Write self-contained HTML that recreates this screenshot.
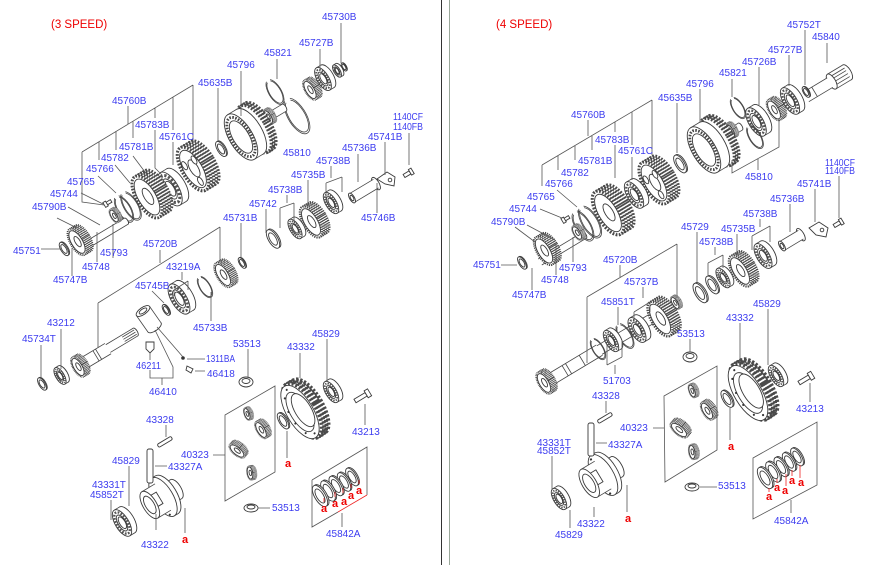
<!DOCTYPE html>
<html><head><meta charset="utf-8">
<style>
html,body{margin:0;padding:0;background:#fff}
svg{display:block}
.o{fill:#fff;stroke:#3a3a3a;stroke-width:.9;vector-effect:non-scaling-stroke}
.t{fill:#fff;stroke:#4a4a4a;stroke-width:1.3;stroke-dasharray:.75 .6}
.l{fill:none;stroke:#444;stroke-width:.8;vector-effect:non-scaling-stroke}
.w{fill:#fff}
.k{fill:none;stroke:#555;stroke-width:.8}
.rk{fill:none;stroke:#e22;stroke-width:.8}
text{font-family:"Liberation Sans",sans-serif;font-size:10px;fill:#3c3cf0}
text.r{fill:#e00;font-weight:bold;font-size:11px}
text.h{fill:#e00;font-size:11.5px}
</style></head><body>
<svg width="883" height="565" viewBox="0 0 883 565" xmlns="http://www.w3.org/2000/svg" xmlns:xlink="http://www.w3.org/1999/xlink">
<defs>
<g id="gear">
<ellipse class="t" cx="5" rx="4.5" ry="10.3"/>
<ellipse class="t" cx="3.75" rx="4.5" ry="10.3"/>
<ellipse class="t" cx="2.5" rx="4.5" ry="10.3"/>
<ellipse class="t" cx="1.25" rx="4.5" ry="10.3"/>
<ellipse class="t" cx="0" rx="4.5" ry="10.3"/>
<ellipse class="o" rx="3.8" ry="8.8"/>
<ellipse class="o" cx=".5" rx="1.7" ry="4"/>
</g>
<g id="bear">
<ellipse class="o" cx="4" rx="4.5" ry="10"/>
<rect class="w" x="0" y="-10" width="4" height="20"/>
<path class="l" d="M0-10H4M0 10H4"/>
<ellipse class="o" rx="4.5" ry="10"/>
<ellipse rx="3.6" ry="8" fill="#fff" stroke="#555" stroke-width="1.6" stroke-dasharray="1.2 .9"/>
<ellipse class="o" rx="2.6" ry="6"/>
<ellipse class="o" cx=".3" rx="1.9" ry="4.4"/>
</g>
<g id="ring">
<ellipse class="o" cx="1.3" rx="4.4" ry="10"/>
<ellipse class="o" rx="4.4" ry="10"/>
<ellipse class="o" rx="2.9" ry="6.6"/>
</g>
<g id="snap">
<path class="l" d="M-1.5-9.43A4.5 10 0 1 0 1.5-9.43"/>
<path class="l" d="M-1.3-8.51A4 9 0 1 0 1.3-8.51"/>
</g>
<g id="drum">
<ellipse class="t" cx="8" rx="4.5" ry="10.3"/>
<ellipse class="t" cx="7" rx="4.5" ry="10.3"/>
<ellipse class="t" cx="6" rx="4.5" ry="10.3"/>
<ellipse class="o" cx="4" rx="4.5" ry="10"/>
<rect class="w" x="0" y="-10" width="4" height="20"/>
<path class="l" d="M0-10H4M0 10H4"/>
<ellipse class="o" rx="4.5" ry="10"/>
<ellipse rx="3.8" ry="8.5" fill="#fff" stroke="#444" stroke-width="1.1" stroke-dasharray=".6 .55"/>
<ellipse class="o" rx="3.1" ry="7"/>
</g>
<g id="carr">
<use xlink:href="#gear" href="#gear"/>
<ellipse class="o" cx="0" cy="6" rx=".9" ry="1.9"/>
<ellipse class="o" cx="-2.3" cy="-3" rx=".9" ry="1.9"/>
<ellipse class="o" cx="2.3" cy="-3" rx=".9" ry="1.9"/>
</g>
<g id="rg">
<ellipse class="t" cx="3.6" rx="4.3" ry="10.2"/>
<ellipse class="t" cx="2.7" rx="4.4" ry="10.3"/>
<ellipse class="t" cx="1.8" rx="4.4" ry="10.3"/>
<ellipse class="t" cx=".9" rx="4.4" ry="10.3"/>
<ellipse class="o" rx="4.4" ry="10"/>
<ellipse class="o" rx="3.2" ry="7.4"/>
<ellipse class="o" cx="1.2" rx="2.7" ry="6.2"/>
<circle cx="0" cy="-8.6" r=".35" fill="#333"/>
<circle cx="-2" cy="-6.5" r=".35" fill="#333"/>
<circle cx="-3.3" cy="-2" r=".35" fill="#333"/>
<circle cx="-3.3" cy="2.5" r=".35" fill="#333"/>
<circle cx="-2" cy="7" r=".35" fill="#333"/>
<circle cx="0.5" cy="8.6" r=".35" fill="#333"/>
</g>
<g id="case">
<ellipse class="o" cx="7" rx="2.2" ry="5"/>
<rect class="w" x="2" y="-5" width="5" height="10"/>
<path class="l" d="M2-5H7M2 5H7"/>
<ellipse class="o" cx="2" rx="4.5" ry="10"/>
<rect class="w" x="0" y="-10" width="2" height="20"/>
<path class="l" d="M0-10H2M0 10H2"/>
<ellipse class="o" rx="4.5" ry="10"/>
<circle cx="-1" cy="-8.5" r=".5" fill="#333"/>
<circle cx="-3.6" cy="-4" r=".5" fill="#333"/>
<circle cx="-3.8" cy="3" r=".5" fill="#333"/>
<circle cx="-1.5" cy="8.5" r=".5" fill="#333"/>
<rect class="w" x="-7" y="-7" width="7" height="14"/>
<path class="l" d="M-7-7H0M-7 7H0"/>
<path class="o" d="M-5.5-3.5h4v6h-4z"/>
<ellipse class="o" cx="-7" rx="3.1" ry="7"/>
<ellipse class="o" cx="-7" rx="2" ry="4.5"/>
</g>
</defs>

<!-- dividers -->
<line x1="441.5" y1="0" x2="441.5" y2="565" stroke="#333" stroke-width="1"/>
<line x1="449.5" y1="0" x2="449.5" y2="565" stroke="#9aa89a" stroke-width="1"/>

<!-- ================= LEFT PANEL DRAWINGS ================= -->
<use href="#ring" transform="translate(344 67) rotate(-31) scale(.45)"/>
<use href="#bear" transform="translate(337 71) rotate(-31) scale(.7)"/>
<use href="#bear" transform="translate(323 79) rotate(-31) scale(1.3)"/>
<use href="#gear" transform="translate(310 90) rotate(-31) scale(1.1)"/>
<use href="#snap" transform="translate(275 92) rotate(-31) scale(1.4)"/>
<use href="#snap" transform="translate(297 116) rotate(-31) scale(2)"/>
<g transform="translate(262 121) rotate(-31)"><ellipse class="o" cx="26" rx="1.8" ry="4"/><rect class="w" x="0" y="-4" width="26" height="8"/><path class="l" d="M0-4H26M0 4H26"/></g>
<use href="#gear" transform="translate(268 117) rotate(-31) scale(.8)"/>
<use href="#drum" transform="translate(241 137) rotate(-31) scale(2.6)"/>
<use href="#ring" transform="translate(221 149) rotate(-31) scale(.85)"/>
<use href="#carr" transform="translate(193 169) rotate(-31) scale(2.4)"/>
<use href="#bear" transform="translate(170 189) rotate(-31) scale(1.9)"/>
<use href="#gear" transform="translate(147 197) rotate(-31) scale(2.3)"/>
<use href="#snap" transform="translate(131 206) rotate(-31) scale(1.6)"/>
<use href="#snap" transform="translate(124 209) rotate(-31) scale(1.5)"/>
<g transform="translate(80 249) rotate(-31)"><ellipse class="o" cx="54" rx="1.6" ry="3.5"/><rect class="w" x="0" y="-3.5" width="54" height="7"/><path class="l" d="M0-3.5H54M0 3.5H54"/></g>
<use href="#gear" transform="translate(114 216) rotate(-31) scale(.75)"/>
<use href="#gear" transform="translate(77 242) rotate(-31) scale(1.45)"/>
<use href="#ring" transform="translate(64 249) rotate(-31) scale(.75)"/>
<g transform="translate(106 204) rotate(-31)"><rect class="o" x="0" y="-1.5" width="6" height="3"/><rect class="o" x="-2" y="-2.8" width="3" height="5.6"/></g>

<!-- 45736B etc -->
<g transform="translate(352 198) rotate(-31)"><ellipse class="o" cx="28" rx="3" ry="7"/><rect class="w" x="0" y="-5" width="28" height="10"/><path class="l" d="M0-5H28M0 5H28"/><ellipse class="o" rx="2.4" ry="5.5"/><ellipse class="o" rx="1.4" ry="3"/></g>
<path class="o" d="M377 179L387 172L395 177L394 186L385 184Z"/>
<circle cx="390" cy="180" r="1.8" class="o"/>
<g transform="translate(404 176) rotate(-31)"><rect class="o" x="0" y="-1.8" width="7" height="3.6"/><rect class="o" x="7" y="-3.2" width="3" height="6.4"/></g>
<use href="#bear" transform="translate(331 203) rotate(-31) scale(1.2)"/>
<use href="#gear" transform="translate(311 222) rotate(-31) scale(1.7)"/>
<use href="#bear" transform="translate(295 229) rotate(-31) scale(1.1)"/>
<use href="#ring" transform="translate(273 239) rotate(-31) scale(1.05)"/>

<use href="#ring" transform="translate(242 263) rotate(-31) scale(.6)"/>
<use href="#gear" transform="translate(223 275) rotate(-31) scale(1.35)"/>
<use href="#snap" transform="translate(205 287) rotate(-31) scale(1.2)"/>
<use href="#bear" transform="translate(179 299) rotate(-31) scale(1.7)"/>
<use href="#ring" transform="translate(166 310) rotate(-31) scale(.6)"/>

<!-- pinion shaft left -->
<g transform="translate(84 363) rotate(-31)">
<ellipse class="o" cx="60" rx="2" ry="4.5"/>
<rect class="w" x="28" y="-4.5" width="32" height="9"/>
<path class="l" d="M28-4.5H60M28 4.5H60M46-2.5H60M46 0H60M46 2.5H60"/>
<rect class="w" x="0" y="-6" width="28" height="12"/>
<path class="l" d="M0-6H28M0 6H28M14-6V6M17-6V6"/>
</g>
<use href="#gear" transform="translate(78 367) rotate(-31) scale(1.1)"/>
<use href="#bear" transform="translate(60 376) rotate(-31) scale(.95)"/>
<use href="#ring" transform="translate(42 384) rotate(-31) scale(.7)"/>

<!-- speedo -->
<g transform="translate(143 311) rotate(55)"><ellipse class="o" cx="20" rx="3.5" ry="8"/><rect class="w" x="0" y="-8" width="20" height="16"/><path class="l" d="M0-8H20M0 8H20"/><ellipse class="o" rx="3.5" ry="8"/><ellipse class="o" rx="2" ry="4.5"/></g>
<path class="o" d="M146 342h8v7l-4 4-4-4z"/>
<circle cx="183" cy="358" r="1.8" fill="#333"/>
<path class="o" d="M187 366l6 3-2 4-5-3z"/>
<ellipse class="o" cx="246" cy="382" rx="7" ry="5"/><ellipse class="o" cx="246" cy="381" rx="4" ry="2.5"/>

<!-- diff left -->
<use href="#bear" transform="translate(331 392) rotate(-31) scale(1.2)"/>
<use href="#rg" transform="translate(300 412) rotate(-31) scale(3)"/>
<g transform="translate(355 401) rotate(-31)"><rect class="o" x="0" y="-2" width="13" height="4"/><rect class="o" x="13" y="-4" width="4" height="8"/></g>
<use href="#ring" transform="translate(283 421) rotate(-31) scale(.9)"/>
<use href="#gear" transform="translate(247 414) rotate(-20) scale(.65)"/>
<use href="#gear" transform="translate(261 430) rotate(-31) scale(.95)"/>
<use href="#gear" transform="translate(237 451) rotate(-50) scale(.95)"/>
<use href="#gear" transform="translate(250 473) rotate(-10) scale(.7)"/>
<use href="#case" transform="translate(163 497) rotate(-31) scale(2.2)"/>
<use href="#bear" transform="translate(122 523) rotate(-31) scale(1.5)"/>
<rect class="o" x="147" y="449" width="6" height="34" rx="2"/>
<g transform="translate(158 446) rotate(-31)"><rect class="o" x="0" y="-1.8" width="16" height="3.6" rx="1.5"/></g>
<ellipse class="o" cx="251" cy="508" rx="7" ry="4"/><ellipse class="o" cx="251" cy="507" rx="4" ry="2"/>
<use href="#ring" transform="translate(352 477) rotate(-31) scale(1)"/>
<use href="#ring" transform="translate(344 482) rotate(-31) scale(1.05)"/>
<use href="#ring" transform="translate(336 486) rotate(-31) scale(1.1)"/>
<use href="#ring" transform="translate(328 491) rotate(-31) scale(1.15)"/>
<use href="#ring" transform="translate(320 496) rotate(-31) scale(1.2)"/>

<!-- ================= RIGHT PANEL DRAWINGS ================= -->
<g transform="translate(806 97) rotate(-31)">
<ellipse class="o" cx="48" rx="3.8" ry="8.5"/>
<rect class="w" x="30" y="-8.5" width="18" height="17"/>
<path class="l" d="M30-8.5H48M30 8.5H48M30-5H48M30-2H48M30 1.5H48M30 5H48"/>
<ellipse class="o" cx="30" rx="3.8" ry="8.5"/>
<rect class="w" x="0" y="-5.5" width="28" height="11"/>
<path class="l" d="M0-5.5H28M0 5.5H28M10-5.5V5.5"/>
</g>
<use href="#ring" transform="translate(806 92) rotate(-31) scale(.6)"/>
<use href="#bear" transform="translate(790 101) rotate(-31) scale(1.5)"/>
<use href="#gear" transform="translate(774 110) rotate(-31) scale(1.15)"/>
<use href="#bear" transform="translate(756 122) rotate(-31) scale(1.6)"/>
<use href="#snap" transform="translate(738 108) rotate(-31) scale(1.2)"/>
<use href="#snap" transform="translate(755 137) rotate(-31) scale(1.3)"/>
<g transform="translate(718 140) rotate(-31)"><ellipse class="o" cx="26" rx="1.8" ry="4"/><rect class="w" x="0" y="-4" width="26" height="8"/><path class="l" d="M0-4H26M0 4H26"/></g>
<use href="#gear" transform="translate(730 131) rotate(-31) scale(.8)"/>
<use href="#drum" transform="translate(704 150) rotate(-31) scale(2.6)"/>
<use href="#ring" transform="translate(680 164) rotate(-31) scale(1)"/>
<use href="#carr" transform="translate(654 183) rotate(-31) scale(2.3)"/>
<use href="#bear" transform="translate(634 195) rotate(-31) scale(1.5)"/>
<use href="#gear" transform="translate(608 213) rotate(-31) scale(2.4)"/>
<use href="#snap" transform="translate(590 222) rotate(-31) scale(1.8)"/>
<use href="#snap" transform="translate(583 226) rotate(-31) scale(1.7)"/>
<g transform="translate(540 262) rotate(-31)"><ellipse class="o" cx="52" rx="1.6" ry="3.5"/><rect class="w" x="0" y="-3.5" width="52" height="7"/><path class="l" d="M0-3.5H52M0 3.5H52"/></g>
<use href="#gear" transform="translate(577 233) rotate(-31) scale(.8)"/>
<use href="#gear" transform="translate(544 251) rotate(-31) scale(1.55)"/>
<use href="#ring" transform="translate(522 263) rotate(-31) scale(.7)"/>
<g transform="translate(564 220) rotate(-31)"><rect class="o" x="0" y="-1.5" width="6" height="3"/><rect class="o" x="-2" y="-2.8" width="3" height="5.6"/></g>

<g transform="translate(782 246) rotate(-31)"><ellipse class="o" cx="22" rx="3" ry="7"/><rect class="w" x="0" y="-5" width="22" height="10"/><path class="l" d="M0-5H22M0 5H22"/><ellipse class="o" rx="2.4" ry="5.5"/><ellipse class="o" rx="1.4" ry="3"/></g>
<path class="o" d="M809 228L819 222L828 228L826 237L816 235Z"/>
<circle cx="822" cy="230" r="1.8" class="o"/>
<g transform="translate(834 226) rotate(-31)"><rect class="o" x="0" y="-1.8" width="7" height="3.6"/><rect class="o" x="7" y="-3.2" width="3" height="6.4"/></g>
<use href="#bear" transform="translate(763 256) rotate(-31) scale(1.4)"/>
<use href="#gear" transform="translate(740 271) rotate(-31) scale(1.7)"/>
<use href="#bear" transform="translate(723 278) rotate(-31) scale(1.1)"/>
<use href="#ring" transform="translate(712 285) rotate(-31) scale(1)"/>
<use href="#ring" transform="translate(700 293) rotate(-31) scale(1.1)"/>

<!-- pinion shaft right -->
<g transform="translate(548 381) rotate(-31)">
<ellipse class="o" cx="150" rx="2" ry="4.5"/>
<rect class="w" x="60" y="-5" width="90" height="10"/>
<path class="l" d="M60-5H150M60 5H150"/>
<rect class="w" x="0" y="-6" width="60" height="12"/>
<path class="l" d="M0-6H60M0 6H60M20-6V6M24-6V6M40-6V6"/>
</g>
<use href="#gear" transform="translate(544 383) rotate(-31) scale(1.2)"/>
<use href="#gear" transform="translate(675 303) rotate(-31) scale(.7)"/>
<use href="#gear" transform="translate(660 319) rotate(-31) scale(1.9)"/>
<use href="#bear" transform="translate(637 330) rotate(-31) scale(1.4)"/>
<use href="#snap" transform="translate(625 336) rotate(-31) scale(1.4)"/>
<use href="#bear" transform="translate(611 341) rotate(-31) scale(1.2)"/>
<use href="#snap" transform="translate(598 349) rotate(-31) scale(1.2)"/>
<ellipse class="o" cx="690" cy="357" rx="7" ry="5"/><ellipse class="o" cx="690" cy="356" rx="4" ry="2.5"/>

<!-- diff right -->
<use href="#bear" transform="translate(776 376) rotate(-31) scale(1.2)"/>
<use href="#rg" transform="translate(748 393) rotate(-31) scale(3.1)"/>
<g transform="translate(799 383) rotate(-31)"><rect class="o" x="0" y="-2" width="12" height="4"/><rect class="o" x="12" y="-4" width="4" height="8"/></g>
<use href="#ring" transform="translate(727 399) rotate(-31) scale(.95)"/>
<use href="#gear" transform="translate(692 391) rotate(-20) scale(.7)"/>
<use href="#gear" transform="translate(707 411) rotate(-31) scale(1)"/>
<use href="#gear" transform="translate(679 430) rotate(-50) scale(1.05)"/>
<use href="#gear" transform="translate(692 452) rotate(-10) scale(.75)"/>
<use href="#case" transform="translate(603 475) rotate(-31) scale(2.3)"/>
<use href="#bear" transform="translate(559 499) rotate(-31) scale(1.2)"/>
<rect class="o" x="588" y="423" width="6" height="33" rx="2"/>
<g transform="translate(598 422) rotate(-31)"><rect class="o" x="0" y="-1.8" width="16" height="3.6" rx="1.5"/></g>
<ellipse class="o" cx="692" cy="487" rx="7" ry="4"/><ellipse class="o" cx="692" cy="486" rx="4" ry="2"/>
<use href="#ring" transform="translate(797 457) rotate(-31) scale(1)"/>
<use href="#ring" transform="translate(789 462) rotate(-31) scale(1.05)"/>
<use href="#ring" transform="translate(781 467) rotate(-31) scale(1.1)"/>
<use href="#ring" transform="translate(773 472) rotate(-31) scale(1.15)"/>
<use href="#ring" transform="translate(765 478) rotate(-31) scale(1.2)"/>

<!-- ================= LEADERS ================= -->
<path class="k" d="M341 23V63M320 49V68M277 59V79M241 71V116M218 88V141M128 106V124
M82 152L193 85M193 85V141M173 97V130M173 142V165M155 108V118M155 130V168L162 175M133 121V138M116 131V150M99 142V160M82 152V202L104 205
M133 156L148 176M115 165L130 183M98 176L116 193M81 193L103 204M68 207L100 225M57 218L77 228M113 258V224M97 262V232M72 276V248M41 249H60
M409 133V165M385 142V175M358 154V182M331 166V178M326 183L342 177M326 183V200M342 177V192M308 180V206M287 195V203M280 208L294 203M280 208V228M294 203V222M266 209V233M377 213V183M241 223V257
M160 250V263M98 303L220 227M220 227V263M98 303V348M182 272V280M174 290L188 281M174 290V296M188 281V290M152 291L164 303M211 321V292M61 329V369M41 345V378
M150 353V360M150 370V378H173V367L155 330M162 378V385M187 359H205M195 371H205M157 327L183 357M248 349V377M300 353V378M327 339V382
M166 425V437M213 455H225M129 466V506M155 466H167M111 500V520M156 530V514M185 508V533M287 431V458M258 508H270M365 404V425M342 513V527
M225 415L275 386V472L225 501Z
M312 480L367 447V495M312 480V527L338 512"/>
<path class="rk" d="M338 512L367 495M324 502V498M335 497V492M343 493V488M351 488V484M359 484V480"/>

<path class="k" d="M805 30V85M827 43V63M789 55V86M759 67V105M732 79V97M700 89V122M677 103V153
M588 120V136M542 165L652 100M652 100V155M632 112V145M632 157V180M615 122V132M615 145V178M592 136V150M575 146V160M558 156V170M542 165V186
M557 190L577 207M540 209L562 218M515 227L535 242M527 225L555 240M501 265H517M573 262V237M556 275V245M532 290V268
M732 160V173L779 147V118M758 159V170M839 176V218M815 189V222M790 204V232M760 219V227M752 236L770 226M752 236V250M770 226V242M737 234V255M715 247V255M708 263L723 255M708 263V275M723 255V268M697 232V282
M620 265V277M587 297L677 244M677 244V298M587 297V363M643 287V298M634 312L650 302M634 312V322M650 302V312M618 307V325M615 374V365M607 365L622 357M607 365V345M622 357V340
M690 339V352M740 323V360M768 309V365M606 401V413M653 428H664M596 443H607M552 456V490M594 517V507M570 528V510M627 485V512M730 408V440M700 487H717M810 383V402M791 500V513
M664 396L717 366V450L665 482Z M753 458L817 422V485L753 519Z"/>
<path class="rk" d="M769 492V488M777 483V479M786 486V474M792 476V470M800 478V465"/>

<!-- ================= LABELS ================= -->
<text class="h" x="51" y="28">(3 SPEED)</text>
<text class="h" x="496" y="28">(4 SPEED)</text>

<text x="322" y="20">45730B</text>
<text x="299" y="46">45727B</text>
<text x="264" y="56">45821</text>
<text x="227" y="68">45796</text>
<text x="198" y="86">45635B</text>
<text x="112" y="104">45760B</text>
<text x="135" y="128">45783B</text>
<text x="159" y="140">45761C</text>
<text x="119" y="150">45781B</text>
<text x="101" y="161">45782</text>
<text x="86" y="172">45766</text>
<text x="67" y="185">45765</text>
<text x="50" y="197">45744</text>
<text x="32" y="210">45790B</text>
<text x="13" y="254">45751</text>
<text x="100" y="256">45793</text>
<text x="82" y="270">45748</text>
<text x="53" y="283">45747B</text>
<text x="283" y="156">45810</text>
<text x="393" y="120" textLength="30" lengthAdjust="spacingAndGlyphs">1140CF</text>
<text x="393" y="130" textLength="30" lengthAdjust="spacingAndGlyphs">1140FB</text>
<text x="368" y="140">45741B</text>
<text x="342" y="151">45736B</text>
<text x="316" y="164">45738B</text>
<text x="291" y="178">45735B</text>
<text x="268" y="193">45738B</text>
<text x="249" y="207">45742</text>
<text x="361" y="221">45746B</text>
<text x="223" y="221">45731B</text>
<text x="143" y="247">45720B</text>
<text x="166" y="270">43219A</text>
<text x="135" y="289">45745B</text>
<text x="193" y="331">45733B</text>
<text x="47" y="326">43212</text>
<text x="22" y="342">45734T</text>
<text x="136" y="369" textLength="25" lengthAdjust="spacingAndGlyphs">46211</text>
<text x="206" y="362" textLength="29" lengthAdjust="spacingAndGlyphs">1311BA</text>
<text x="207" y="377">46418</text>
<text x="149" y="395">46410</text>
<text x="233" y="347">53513</text>
<text x="287" y="350">43332</text>
<text x="312" y="337">45829</text>
<text x="146" y="423">43328</text>
<text x="181" y="458">40323</text>
<text x="112" y="464">45829</text>
<text x="168" y="470">43327A</text>
<text x="92" y="488">43331T</text>
<text x="90" y="498">45852T</text>
<text x="141" y="548">43322</text>
<text x="272" y="511">53513</text>
<text x="352" y="435">43213</text>
<text x="326" y="537">45842A</text>
<text class="r" x="182" y="543">a</text>
<text class="r" x="285" y="467">a</text>
<text class="r" x="321" y="512">a</text>
<text class="r" x="332" y="507">a</text>
<text class="r" x="341" y="505">a</text>
<text class="r" x="348" y="499">a</text>
<text class="r" x="356" y="494">a</text>

<text x="787" y="28">45752T</text>
<text x="812" y="40">45840</text>
<text x="768" y="53">45727B</text>
<text x="742" y="65">45726B</text>
<text x="719" y="76">45821</text>
<text x="686" y="87">45796</text>
<text x="658" y="101">45635B</text>
<text x="571" y="118">45760B</text>
<text x="595" y="143">45783B</text>
<text x="618" y="154">45761C</text>
<text x="578" y="164">45781B</text>
<text x="561" y="176">45782</text>
<text x="545" y="187">45766</text>
<text x="527" y="200">45765</text>
<text x="509" y="212">45744</text>
<text x="491" y="225">45790B</text>
<text x="473" y="268">45751</text>
<text x="559" y="271">45793</text>
<text x="541" y="283">45748</text>
<text x="512" y="298">45747B</text>
<text x="745" y="180">45810</text>
<text x="825" y="166" textLength="30" lengthAdjust="spacingAndGlyphs">1140CF</text>
<text x="825" y="174" textLength="30" lengthAdjust="spacingAndGlyphs">1140FB</text>
<text x="797" y="187">45741B</text>
<text x="770" y="202">45736B</text>
<text x="743" y="217">45738B</text>
<text x="721" y="232">45735B</text>
<text x="681" y="230">45729</text>
<text x="699" y="245">45738B</text>
<text x="603" y="263">45720B</text>
<text x="624" y="285">45737B</text>
<text x="601" y="305">45851T</text>
<text x="677" y="337">53513</text>
<text x="726" y="321">43332</text>
<text x="753" y="307">45829</text>
<text x="603" y="384">51703</text>
<text x="592" y="399">43328</text>
<text x="620" y="431">40323</text>
<text x="608" y="448">43327A</text>
<text x="537" y="446">43331T</text>
<text x="537" y="454">45852T</text>
<text x="577" y="527">43322</text>
<text x="555" y="538">45829</text>
<text x="718" y="489">53513</text>
<text x="796" y="412">43213</text>
<text x="774" y="524">45842A</text>
<text class="r" x="625" y="522">a</text>
<text class="r" x="728" y="450">a</text>
<text class="r" x="766" y="500">a</text>
<text class="r" x="774" y="491">a</text>
<text class="r" x="782" y="494">a</text>
<text class="r" x="789" y="484">a</text>
<text class="r" x="798" y="486">a</text>
</svg>
</body></html>
